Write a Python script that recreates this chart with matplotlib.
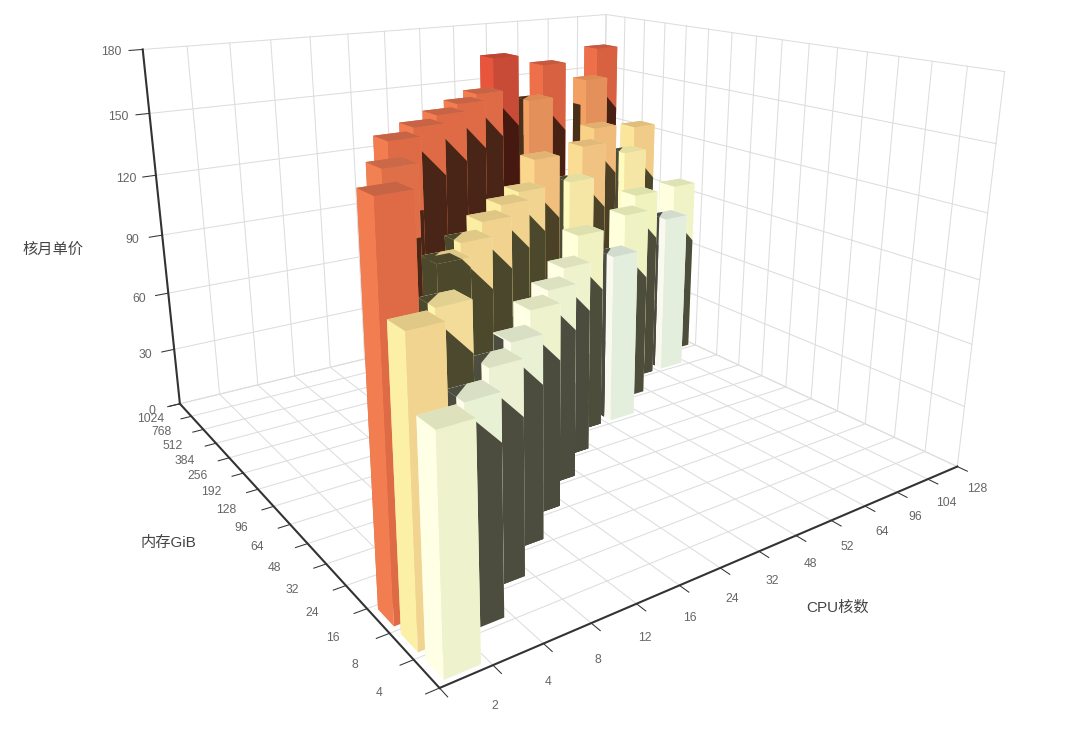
import numpy as np
import matplotlib
matplotlib.use('Agg')
import matplotlib.pyplot as plt
from matplotlib.colors import LinearSegmentedColormap, Normalize
from mpl_toolkits.mplot3d import proj3d
from mpl_toolkits.mplot3d.art3d import Poly3DCollection

plt.rcParams['font.family'] = ['Liberation Sans', 'Noto Sans CJK SC']

cpu_cats = ['2', '4', '8', '12', '16', '24', '32', '48', '52', '64', '96', '104', '128']
mem_cats = ['4', '8', '16', '24', '32', '48', '64', '96', '128', '192', '256', '384', '512', '768', '1024']
z_ticks = [0, 30, 60, 90, 120, 150, 180]

# one list per memory ratio: cpu, memory, price
cpu_1to2 = ['2', '4', '8', '12', '16', '24', '32', '48', '52', '64', '96', '104', '128']
mem_1to2 = ['4', '8', '16', '24', '32', '48', '64', '96', '96', '128', '192', '192', '256']
price_1to2 = [92, 89, 90, 89, 92, 91, 92, 99, 85, 98, 101, 85, 96]

cpu_1to4 = ['2', '4', '8', '12', '16', '24', '32', '48', '52', '64', '96', '104', '128']
mem_1to4 = ['8', '16', '32', '48', '64', '96', '128', '192', '192', '256', '384', '384', '512']
price_1to4 = [119, 117, 119, 119, 120, 120, 119, 128, 114, 126, 130, 114, 123]

cpu_1to8 = ['2', '4', '8', '12', '16', '24', '32', '48', '52', '64', '104', '128']
mem_1to8 = ['16', '32', '64', '96', '128', '192', '256', '384', '384', '512', '768', '1024']
price_1to8 = [159, 158, 159, 159, 159, 159, 159, 172, 149, 163, 149, 163]

# colour ramp of the price, one per lit face
ramp_prices = [85, 92, 101, 114, 119, 128, 149, 159, 172]
left_colors = ['#faf9f0', '#ffffe6', '#ffffd7', '#fffabe', '#fbf0a5', '#fad78c', '#f2a064', '#f17d50', '#e6553c']
right_colors = ['#e4eedc', '#eef3cd', '#f0f3be', '#f5e6a5', '#f2d491', '#f0be7d', '#e4915a', '#de6b46', '#c84b37']
top_colors = ['#d2dccd', '#dee2bc', '#dee1aa', '#e4dea0', '#e0c887', '#e1b473', '#dc8c55', '#c86446', '#be4632']

price_norm = Normalize(ramp_prices[0], ramp_prices[-1])


def make_ramp(colors):
    return LinearSegmentedColormap.from_list('ramp', [(float(price_norm(p)), c) for p, c in zip(ramp_prices, colors)])


left_map = make_ramp(left_colors)
right_map = make_ramp(right_colors)
top_map = make_ramp(top_colors)

bar_size = 0.7
gap = (1 - bar_size) / 2
light = np.array([-1.0, -1.0, 22.0])  # towards the light, in data units

fig = plt.figure(figsize=(10.8, 7.4), dpi=100)
ax = fig.add_axes([-172.54/1080, -235.06/740, 1400/1080, 1400/740], projection='3d', computed_zorder=False)
ax.set_proj_type('persp', focal_length=0.1534)
ax.view_init(17.6879, -124.5656)
ax.set_box_aspect((1.0085, 1, 0.6711), zoom=0.6347)
ax.set_axis_off()

nx, ny = len(cpu_cats), len(mem_cats)
ax.set_xlim(0, nx)
ax.set_ylim(0, ny)
ax.set_zlim(0, 180)

grid_kw = dict(color='#dddddd', lw=0.75, zorder=1)
for i in range(nx + 1):
    ax.plot([i, i], [0, ny], [0, 0], **grid_kw)
    ax.plot([i, i], [ny, ny], [0, 180], **grid_kw)
for j in range(ny + 1):
    ax.plot([0, nx], [j, j], [0, 0], **grid_kw)
    ax.plot([nx, nx], [j, j], [0, 180], **grid_kw)
for z in z_ticks:
    ax.plot([0, nx], [ny, ny], [z, z], **grid_kw)
    ax.plot([nx, nx], [0, ny], [z, z], **grid_kw)

axis_kw = dict(color='#333333', lw=1.5, zorder=2)
ax.plot([0, nx], [0, 0], [0, 0], **axis_kw)
ax.plot([0, 0], [0, ny], [0, 0], **axis_kw)
ax.plot([0, 0], [ny, ny], [0, 180], **axis_kw)
tick_kw = dict(color='#333333', lw=0.75, zorder=2)
for i in range(nx + 1):
    ax.plot([i, i], [0, -0.3], [0, 0], **tick_kw)
for j in range(ny + 1):
    ax.plot([0, -0.25], [j, j], [0, 0], **tick_kw)
for z in z_ticks:
    ax.plot([0, -0.3], [ny, ny], [z, z], **tick_kw)


def tick_label(x, y, z, name):
    # tick text sits flat on the picture, at the projected point
    px, py, _ = proj3d.proj_transform(x, y, z, ax.get_proj())
    ax.text2D(px, py, name, transform=ax.transData, color='#666666', fontsize=8.7, ha='center', va='center', zorder=500)


for i, name in enumerate(cpu_cats):
    tick_label(i + 0.5, -1.0, 0, name)
for j, name in enumerate(mem_cats):
    tick_label(-0.85, j + 0.5, 0, name)
for z in z_ticks:
    tick_label(-0.68, ny, z, str(z))

fig.text(53/1080, 1-250/740, '核月单价', color='#444444', fontsize=11, ha='center', va='center')
fig.text(168/1080, 1-543/740, '内存GiB', color='#444444', fontsize=11, ha='center', va='center')
fig.text(838/1080, 1-608/740, 'CPU核数', color='#444444', fontsize=11, ha='center', va='center')

bars = []
for cpus, mems, prices in [(cpu_1to2, mem_1to2, price_1to2), (cpu_1to4, mem_1to4, price_1to4), (cpu_1to8, mem_1to8, price_1to8)]:
    for c, m, v in zip(cpus, mems, prices):
        bars.append((cpu_cats.index(c) + gap, mem_cats.index(m) + gap, v))


def hull(points):
    points = sorted(set(map(tuple, np.round(points, 6))))
    if len(points) < 3:
        return points

    def half(seq):
        out = []
        for p in seq:
            while len(out) > 1 and (out[-1][0]-out[-2][0])*(p[1]-out[-2][1]) - (out[-1][1]-out[-2][1])*(p[0]-out[-2][0]) <= 0:
                out.pop()
            out.append(p)
        return out[:-1]
    return half(points) + half(points[::-1])


def clip_rect(poly, u0, u1, v0, v1):
    for k, lim, sign in [(0, u0, 1), (0, u1, -1), (1, v0, 1), (1, v1, -1)]:
        out = []
        for a, b in zip(poly, poly[1:] + poly[:1]):
            da, db = sign*(a[k]-lim), sign*(b[k]-lim)
            if da >= 0:
                out.append(a)
            if da*db < 0:
                t = da/(da-db)
                out.append((a[0]+t*(b[0]-a[0]), a[1]+t*(b[1]-a[1])))
        poly = out
        if not poly:
            return []
    return poly


def shadow(k, plane, z_range, rect, box):
    # shadow of a box on the plane where coordinate k equals plane
    x0, y0 = box[:2]
    flat = []
    for x in (x0, x0 + bar_size):
        for y in (y0, y0 + bar_size):
            for z in z_range:
                c = np.array([x, y, z], float)
                flat.append(c + (plane - c[k]) / light[k] * light)
    other = [a for a in range(3) if a != k]
    poly = clip_rect(hull(np.array(flat)[:, other]), *rect)
    if len(poly) < 3:
        return None
    out = []
    for u, v in poly:
        p = [0, 0, 0]
        p[k] = plane
        p[other[0]], p[other[1]] = u, v
        out.append(p)
    return out


# far bars first, the zorder does the painting order
for n, b in enumerate(sorted(bars, key=lambda b: -(b[0] + b[1]))):
    x0, y0, h = b
    t = price_norm(h)
    le, ri, to = left_map(t), right_map(t), top_map(t)
    faces = [(1, 1, 1, 0), to, ri, ri, le, le]
    ax.bar3d(x0, y0, 0, bar_size, bar_size, h, color=faces, shade=False, zorder=10 + 2*n)
    polys = []
    for o in bars:
        if o is b:
            continue
        ox, oy, oh = o
        if oy + bar_size <= y0:
            p = shadow(1, y0, (0, oh), (x0, x0 + bar_size, 0, h), o)
            if p:
                polys.append(p)
        if ox + bar_size <= x0:
            p = shadow(0, x0, (0, oh), (y0, y0 + bar_size, 0, h), o)
            if p:
                polys.append(p)
        if oh > h:
            p = shadow(2, h, (h, oh), (x0, x0 + bar_size, y0, y0 + bar_size), o)
            if p:
                polys.append(p)
    if polys:
        dark = np.array(le[:3]) * [0.3, 0.3, 0.27]
        ax.add_collection3d(Poly3DCollection(polys, facecolors=[dark], edgecolors='none', zorder=11 + 2*n))

ax.set_xlim(0, nx)
ax.set_ylim(0, ny)
ax.set_zlim(0, 180)
fig.savefig('out.png', dpi=100)
